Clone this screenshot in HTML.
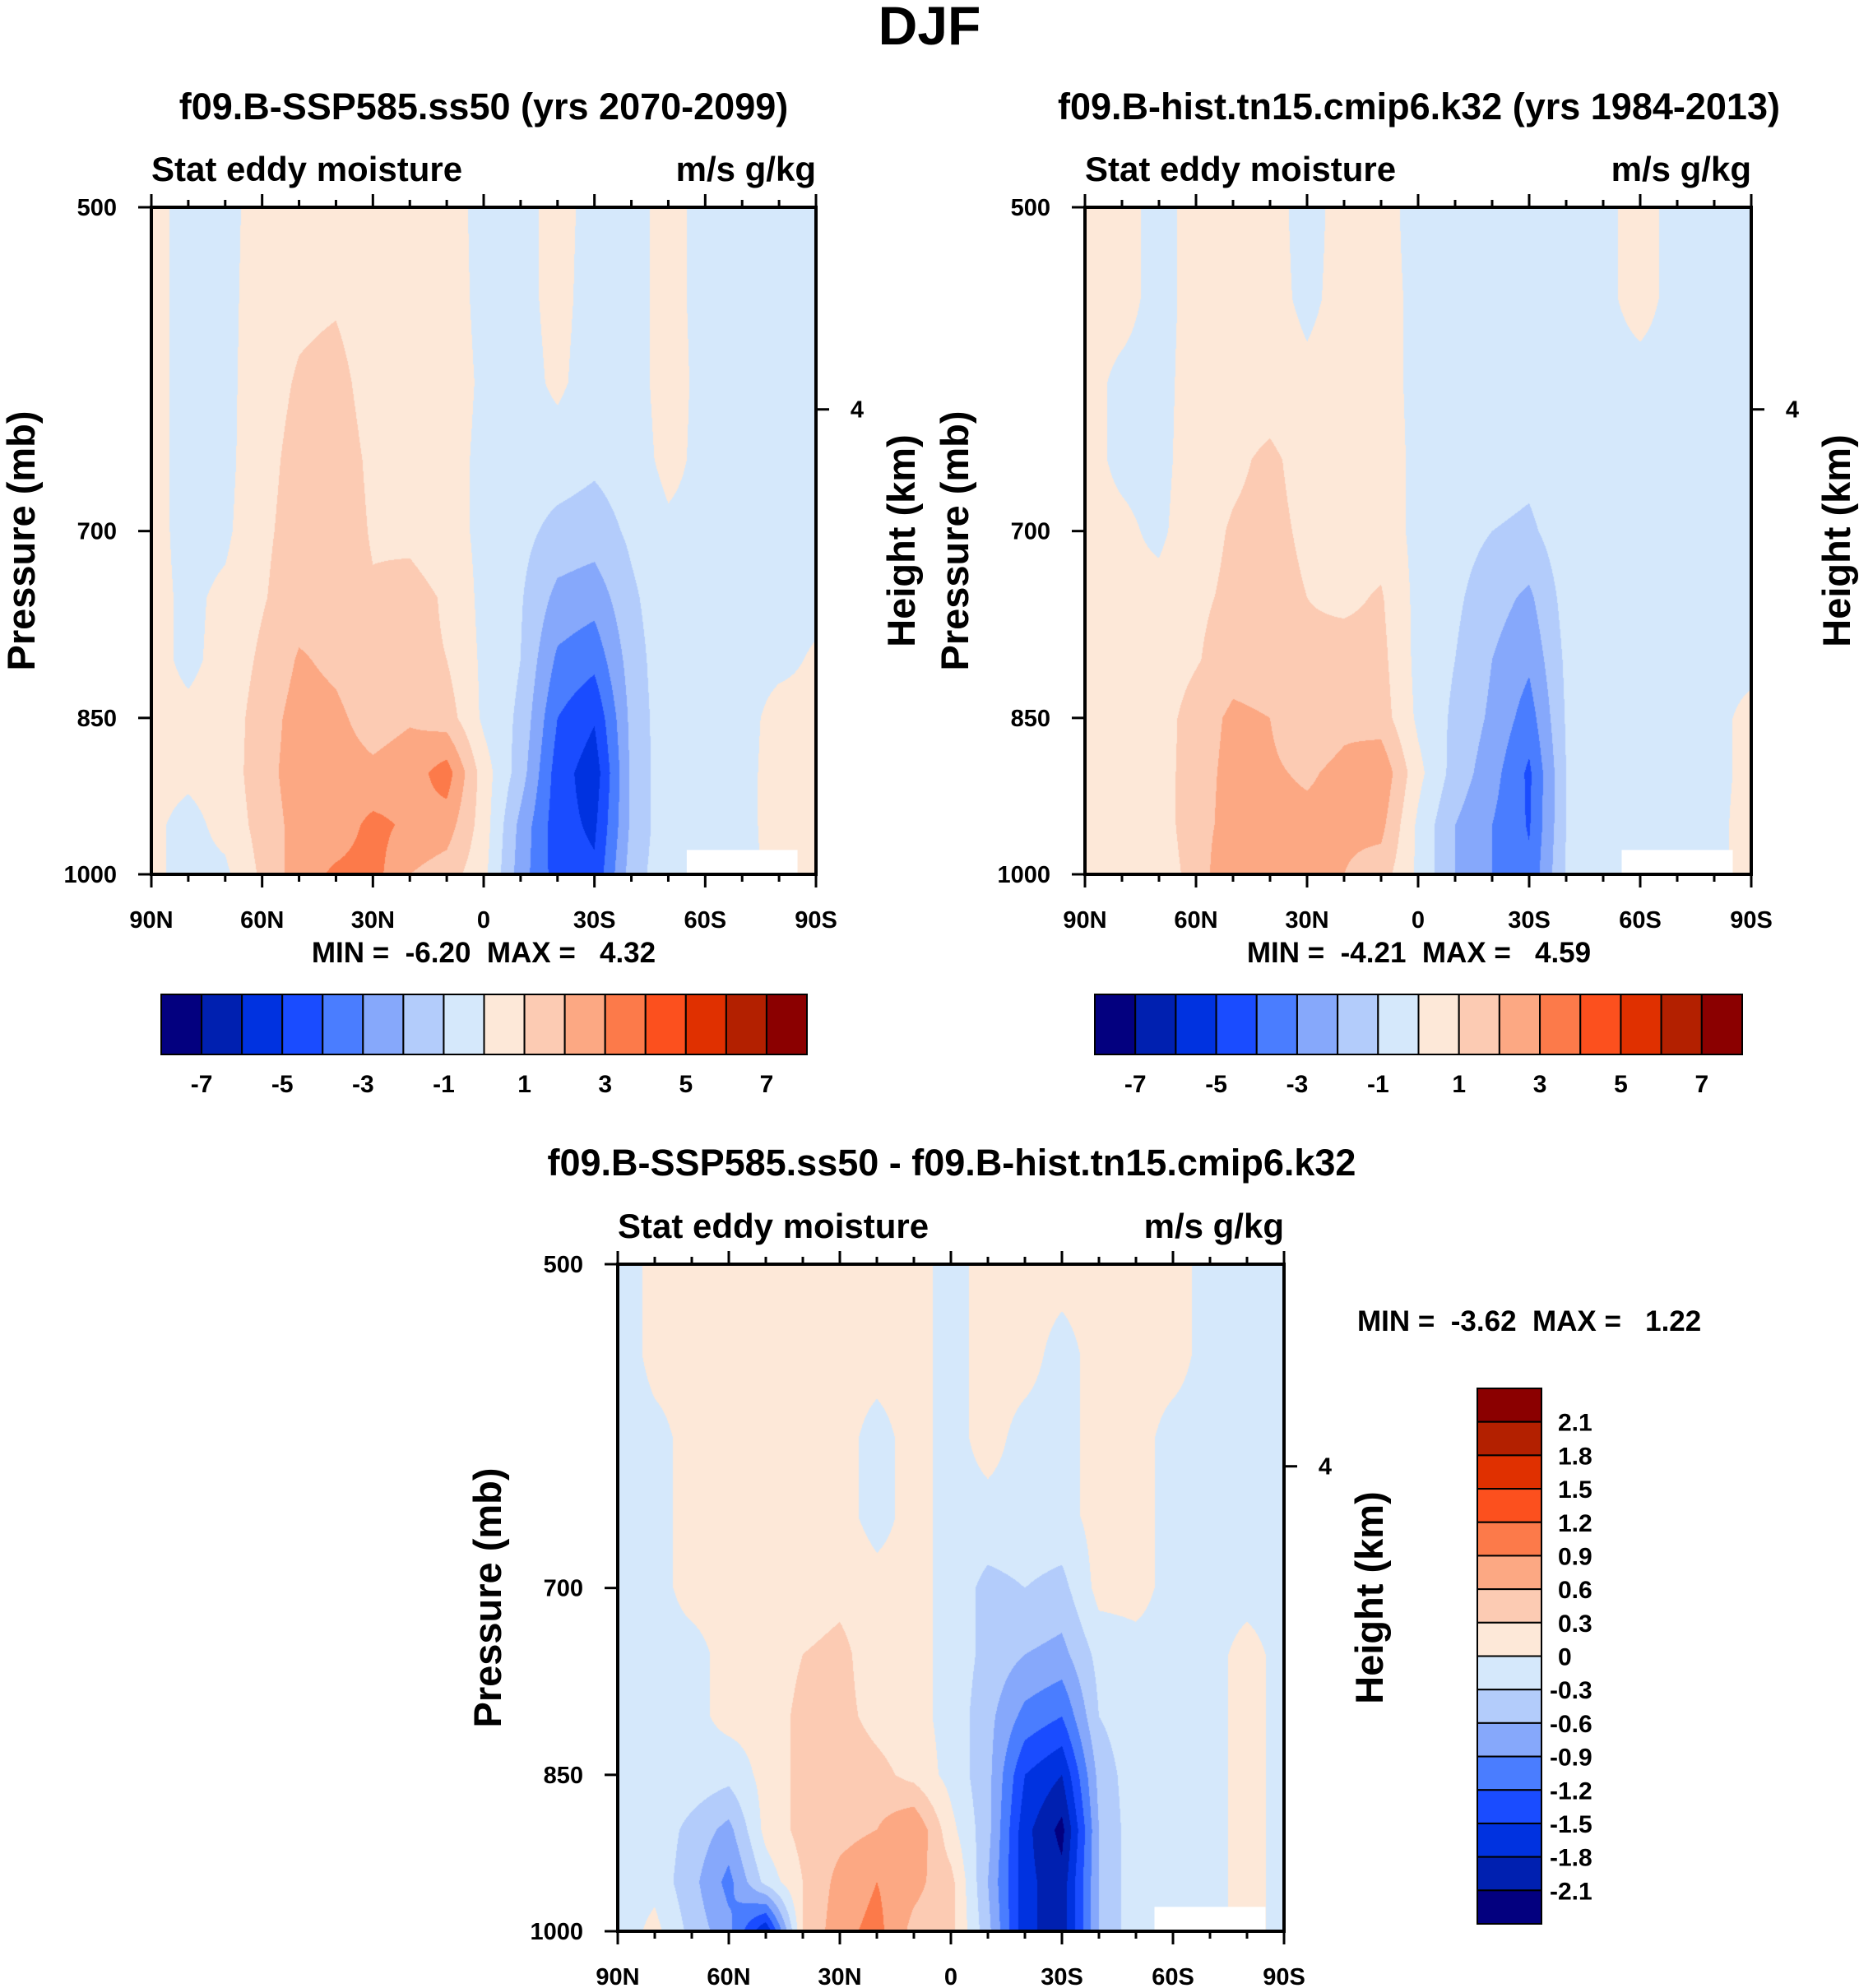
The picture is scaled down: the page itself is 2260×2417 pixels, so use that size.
<!DOCTYPE html>
<html><head><meta charset="utf-8">
<style>
html,body{margin:0;padding:0;background:#fff;}
#root{position:relative;width:2260px;height:2417px;overflow:hidden;font-family:"Liberation Sans",sans-serif;font-weight:bold;}
canvas{position:absolute;}
svg{position:absolute;left:0;top:0;}
text{white-space:pre;}
</style></head>
<body>
<div id="root">
<canvas id="cA"></canvas>
<canvas id="cB"></canvas>
<canvas id="cC"></canvas>
<svg id="sv" width="2260" height="2417"></svg>
</div>
<script>
const lats = [90,80,70,60,50,40,30,20,10,0,-10,-20,-30,-40,-50,-60,-70,-80,-90];
const levels = [500,550,600,650,700,750,800,850,900,950,1000];
const latLabels = ["90N","60N","30N","0","30S","60S","90S"];
const presTicks = [500,700,850,1000];
const boundsTop = [-7,-6,-5,-4,-3,-2,-1,0,1,2,3,4,5,6,7];
const boundsDiff = [-2.1,-1.8,-1.5,-1.2,-0.9,-0.6,-0.3,0,0.3,0.6,0.9,1.2,1.5,1.8,2.1];
const cbLabelsTop = ["-7","-5","-3","-1","1","3","5","7"];
const cbLabelsDiff = ["2.1","1.8","1.5","1.2","0.9","0.6","0.3","0","-0.3","-0.6","-0.9","-1.2","-1.5","-1.8","-2.1"];
const colors = ["#03007f","#0020b0","#0032e0","#1a4cff","#4a7dff","#86a8fb","#b3ccfb","#d5e8fb","#fde8d8","#fccbb3","#fca883","#fc7a4a","#fc501e","#e03000","#b32000","#8b0000"];
const fieldA = [
[0.3,-0.3,-0.3,0.4,0.5,0.5,0.4,0.4,0.4,-0.3,-0.3,0.3,-0.3,-0.3,0.3,-0.3,-0.3,-0.3,-0.3],
[0.3,-0.3,-0.3,0.5,0.8,0.9,0.5,0.5,0.5,-0.3,-0.3,0.3,-0.4,-0.3,0.3,-0.3,-0.3,-0.3,-0.3],
[0.3,-0.3,-0.3,0.6,1.1,1.3,0.6,0.6,0.6,-0.2,-0.4,0.2,-0.5,-0.4,0.4,-0.3,-0.3,-0.3,-0.3],
[0.3,-0.3,-0.3,0.7,1.3,1.5,0.8,0.7,0.5,-0.3,-0.5,-0.5,-0.8,-0.5,0.3,-0.3,-0.3,-0.3,-0.3],
[0.3,-0.3,-0.2,0.8,1.4,1.6,0.9,0.8,0.5,-0.3,-0.7,-1.3,-1.5,-0.8,-0.2,-0.3,-0.3,-0.3,-0.3],
[0.3,-0.2,0.2,0.9,1.6,1.6,1.1,1.3,0.9,-0.3,-0.9,-2.3,-2.6,-1.2,-0.3,-0.3,-0.3,-0.3,-0.2],
[0.3,-0.2,0.3,1.2,2.1,1.8,1.3,1.2,1.0,-0.2,-1.0,-3.2,-3.7,-1.5,-0.3,-0.3,-0.3,-0.2,0.1],
[0.3,0.2,0.4,1.5,2.4,2.2,1.6,1.9,1.5,-0.2,-1.2,-4.0,-4.9,-1.7,-0.3,-0.3,-0.3,0.3,0.2],
[0.3,0.2,0.4,1.6,2.5,2.4,2.2,2.5,3.5,0.5,-1.5,-4.5,-5.6,-1.8,-0.3,-0.3,-0.3,0.4,0.3],
[0.2,-0.3,0.3,1.4,2.4,2.4,3.3,2.8,2.5,0.5,-2.3,-4.6,-5.2,-1.8,-0.3,-0.3,-0.3,0.4,0.3],
[0.2,-0.3,-0.2,1.2,2.5,3.2,3.4,2.0,1.5,0.3,-2.5,-4.5,-4.8,-1.5,-0.3,-0.3,-0.3,0.3,0.3]];
const fieldB = [
[0.3,0.3,-0.3,0.3,0.4,0.3,-0.3,0.3,0.3,-0.3,-0.3,-0.3,-0.3,-0.3,-0.2,0.3,-0.3,-0.3,-0.3],
[0.3,0.3,-0.3,0.3,0.4,0.3,-0.2,0.3,0.3,-0.2,-0.3,-0.3,-0.3,-0.3,-0.2,0.3,-0.3,-0.3,-0.3],
[0.3,-0.2,-0.3,0.4,0.5,0.5,0.2,0.4,0.3,-0.2,-0.3,-0.3,-0.3,-0.3,-0.3,-0.3,-0.3,-0.3,-0.3],
[0.3,-0.2,-0.3,0.5,0.8,1.2,0.6,0.5,0.4,-0.2,-0.4,-0.5,-0.7,-0.3,-0.3,-0.3,-0.3,-0.3,-0.2],
[0.3,0.2,-0.2,0.6,1.1,1.3,0.8,0.6,0.6,-0.3,-0.6,-1.0,-1.2,-0.4,-0.3,-0.3,-0.3,-0.3,-0.2],
[0.3,0.2,0.3,0.8,1.2,1.4,1.0,0.8,1.1,-0.3,-0.8,-1.6,-2.2,-0.6,-0.3,-0.3,-0.3,-0.3,-0.2],
[0.3,0.3,0.4,0.9,1.6,1.5,1.2,1.4,1.3,-0.3,-1.0,-2.0,-2.8,-0.8,-0.3,-0.3,-0.3,-0.2,-0.2],
[0.3,0.3,0.5,1.5,2.2,2.0,1.5,1.8,1.5,-0.2,-1.2,-2.2,-3.5,-0.9,-0.3,-0.3,-0.3,-0.2,0.2],
[0.3,0.3,0.5,1.6,2.3,2.1,1.9,2.2,2.8,0.3,-1.4,-2.6,-4.2,-1.0,-0.3,-0.3,-0.3,-0.2,0.2],
[0.3,0.3,0.5,1.6,2.4,2.2,2.2,2.2,2.3,-0.2,-2.0,-3.0,-4.1,-1.0,-0.3,-0.3,-0.3,-0.2,0.3],
[0.3,0.3,0.4,1.4,3.0,2.6,2.2,2.0,1.5,-0.2,-2.0,-3.0,-3.8,-0.9,-0.3,-0.3,-0.3,-0.2,0.3]];
const fieldC = [
[-0.2,0.1,0.1,0.1,0.1,0.1,0.1,0.1,0.1,-0.1,0.1,0.1,0.1,0.1,0.1,0.1,-0.1,-0.1,-0.1],
[-0.2,0.1,0.1,0.1,0.1,0.1,0.1,0.1,0.1,-0.1,0.1,0.1,-0.1,0.1,0.1,0.1,-0.1,-0.1,-0.1],
[-0.2,-0.1,0.1,0.1,0.1,0.1,0.1,-0.1,0.1,-0.1,0.1,-0.1,-0.1,0.1,0.1,-0.1,-0.1,-0.1,-0.1],
[-0.2,-0.1,0.1,0.1,0.1,0.1,0.1,-0.1,0.1,-0.1,-0.1,-0.1,-0.1,0.1,0.1,-0.1,-0.1,-0.1,-0.1],
[-0.2,-0.1,0.1,0.1,0.1,0.1,0.2,0.1,0.1,-0.1,-0.4,-0.3,-0.4,0.1,0.1,-0.1,-0.1,-0.1,-0.1],
[-0.2,-0.1,-0.1,0.1,0.1,0.3,0.4,0.1,0.1,-0.1,-0.4,-0.6,-0.7,-0.2,-0.1,-0.1,-0.1,0.1,-0.1],
[-0.2,-0.1,-0.1,0.1,0.1,0.4,0.4,0.2,0.1,-0.1,-0.5,-1.0,-1.2,-0.3,-0.1,-0.1,-0.1,0.1,-0.1],
[-0.2,-0.1,-0.1,-0.2,0.1,0.4,0.5,0.4,0.2,-0.1,-0.5,-1.5,-1.8,-0.5,-0.1,-0.1,-0.1,0.1,-0.1],
[-0.2,-0.1,-0.4,-0.7,0.1,0.4,0.5,0.6,0.9,0.1,-0.5,-1.7,-2.2,-0.6,-0.1,-0.1,-0.1,0.1,-0.1],
[-0.2,-0.1,-0.5,-1.0,-0.2,0.3,0.7,0.9,0.7,0.4,-0.6,-1.7,-2.0,-0.6,-0.1,-0.1,-0.1,0.1,-0.1],
[-0.2,0.1,-0.4,-0.8,-1.8,0.3,0.8,1.0,0.5,0.4,-0.5,-1.7,-2.0,-0.6,-0.1,-0.1,-0.1,0.1,-0.1]];

const NS="http://www.w3.org/2000/svg";
const sv=document.getElementById('sv');
function mk(tag,attrs,txt){const e=document.createElementNS(NS,tag);for(const k in attrs)e.setAttribute(k,attrs[k]);if(txt!==undefined)e.textContent=txt;sv.appendChild(e);return e;}
function txt(x,y,s,size,anchor,name,rot){
  const e=mk('text',{x:x,y:y,'font-size':size,'text-anchor':anchor||'middle','font-family':'Liberation Sans, sans-serif','font-weight':'bold',fill:'#000'},s);
  if(rot)e.setAttribute('transform','rotate(-90 '+x+' '+y+')');
  
  
  return e;
}
function colorIdx(v,b){let i=0;while(i<b.length&&v>=b[i])i++;return i;}
function hex(c){return [parseInt(c.substr(1,2),16),parseInt(c.substr(3,2),16),parseInt(c.substr(5,2),16)];}
const rgb=colors.map(hex);

function panel(cfg){
  const {x0,y0,w,h,field,bounds,canvasId,key}=cfg;
  const lnTop=Math.log(500), lnBot=Math.log(1000);
  const xOf=lat=>x0+(90-lat)/180*w;
  const yOf=p=>y0+(Math.log(p)-lnTop)/(lnBot-lnTop)*h;
  const cv=document.getElementById(canvasId);
  cv.width=w;cv.height=h;cv.style.left=x0+'px';cv.style.top=y0+'px';
  const ctx=cv.getContext('2d');const img=ctx.createImageData(w,h);
  for(let py=0;py<h;py++){
    const p=Math.exp(lnTop+(py+0.5)/h*(lnBot-lnTop));
    let r=(p-levels[0])/(levels[1]-levels[0]);r=Math.max(0,Math.min(levels.length-1.0001,r));
    const r0=Math.floor(r),fr=r-r0;
    for(let px=0;px<w;px++){
      let c=(px+0.5)/w*(lats.length-1);c=Math.min(lats.length-1.0001,c);
      const c0=Math.floor(c),fc=c-c0;
      const v=(field[r0][c0]*(1-fc)+field[r0][c0+1]*fc)*(1-fr)+(field[r0+1][c0]*(1-fc)+field[r0+1][c0+1]*fc)*fr;
      const k=rgb[colorIdx(v,bounds)];const o=(py*w+px)*4;
      img.data[o]=k[0];img.data[o+1]=k[1];img.data[o+2]=k[2];img.data[o+3]=255;
    }
  }
  ctx.putImageData(img,0,0);
  const md=mk('rect',{x:xOf(-55),y:yOf(975),width:xOf(-85)-xOf(-55),height:y0+h-yOf(975),fill:'#fff'});
  
  
  const fr=mk('rect',{x:x0,y:y0,width:w,height:h,fill:'none',stroke:'#000','stroke-width':4});
  
  
  for(let lat=90;lat>=-90;lat-=10){
    const x=xOf(lat);const major=(lat%30===0);const L=major?16:9;
    const t1=mk('line',{x1:x,x2:x,y1:y0,y2:y0-L,stroke:'#000','stroke-width':3});
    
    
    const t2=mk('line',{x1:x,x2:x,y1:y0+h,y2:y0+h+L,stroke:'#000','stroke-width':3});
    
    
  }
  latLabels.forEach((s,i)=>{txt(xOf(90-30*i),y0+h+65,s,29,'middle','x-tick-label');});
  presTicks.forEach(p=>{
    const y=yOf(p);
    const t=mk('line',{x1:x0,x2:x0-16,y1:y,y2:y,stroke:'#000','stroke-width':3});
    
    
    txt(x0-42,y+10,String(p),29,'end','y-tick-label');
  });
  const hy=y0+0.303*h;
  const ht=mk('line',{x1:x0+w,x2:x0+w+16,y1:hy,y2:hy,stroke:'#000','stroke-width':3});
  
  
  txt(x0+w+50,hy+10,'4',29,'middle','height-tick-label');
  txt(x0,y0-32,'Stat eddy moisture',42,'start','left-string');
  txt(x0+w,y0-32,'m/s g/kg',42,'end','right-string');
  txt(x0-142,y0+h/2,'Pressure (mb)',47,'middle','y-axis-title',true);
  txt(x0+w+120,y0+h/2,'Height (km)',47,'middle','right-axis-title',true);
}
txt(1130,54,'DJF',66,'middle','figure-title');
txt(588,145,'f09.B-SSP585.ss50 (yrs 2070-2099)',45,'middle','panel-title-ssp585');
txt(1725,145,'f09.B-hist.tn15.cmip6.k32 (yrs 1984-2013)',45,'middle','panel-title-hist');
txt(1157,1429,'f09.B-SSP585.ss50 - f09.B-hist.tn15.cmip6.k32',45,'middle','panel-title-difference');
panel({x0:184,y0:252,w:808,h:811,field:fieldA,bounds:boundsTop,canvasId:'cA',key:'ssp585'});
panel({x0:1319,y0:252,w:810,h:811,field:fieldB,bounds:boundsTop,canvasId:'cB',key:'hist'});
panel({x0:751,y0:1537,w:810,h:811,field:fieldC,bounds:boundsDiff,canvasId:'cC',key:'diff'});
txt(588,1170,'MIN =  -6.20  MAX =   4.32',35,'middle','min-max-ssp585');
txt(1725,1170,'MIN =  -4.21  MAX =   4.59',35,'middle','min-max-hist');
txt(1650,1618,'MIN =  -3.62  MAX =   1.22',35,'start','min-max-difference');
function hbar(x0,y0,w,h,key){
  const n=colors.length,bw=w/n;
  colors.forEach((c,i)=>{
    const r=mk('rect',{x:x0+i*bw,y:y0,width:bw,height:h,fill:c,stroke:'#000','stroke-width':2});
    
    
  });
  cbLabelsTop.forEach((s,i)=>{txt(x0+(1+2*i)*bw,y0+h+46,s,30,'middle','colorbar-label');});
}
hbar(196,1209,785,73,'ssp585');
hbar(1331,1209,787,73,'hist');
(function(){
  const x0=1796,y0=1688,w=78,h=651,n=colors.length,bh=h/n;
  colors.slice().reverse().forEach((c,i)=>{
    const r=mk('rect',{x:x0,y:y0+i*bh,width:w,height:bh,fill:c,stroke:'#000','stroke-width':2});
    
    
  });
  cbLabelsDiff.forEach((s,i)=>{txt(x0+w+(s.startsWith('-')?10:20),y0+(i+1)*bh+11,s,30,'start','colorbar-label');});
})();
</script>
</body></html>
